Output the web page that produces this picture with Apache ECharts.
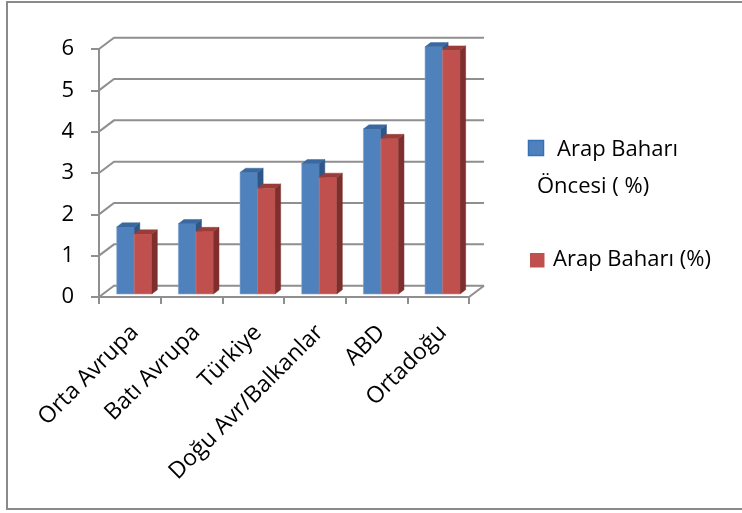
<!DOCTYPE html>
<html>
<head>
<meta charset="utf-8">
<script src="https://cdn.jsdelivr.net/npm/echarts@6/dist/echarts.min.js"></script>
<style>
html,body{margin:0;padding:0;background:#fff;}
#chart{width:742px;height:513px;}
</style>
</head>
<body>
<div id="chart"></div>
<script>
const categories = ['Orta Avrupa', 'Batı Avrupa', 'Türkiye', 'Doğu Avr/Balkanlar', 'ABD', 'Ortadoğu'];
const seriesNames = ['Arap Baharı Öncesi ( %)', 'Arap Baharı (%)'];
const legendLines = [['Arap Baharı', 'Öncesi ( %)'], ['Arap Baharı (%)']];
const valuesBefore = [1.62, 1.70, 2.94, 3.15, 3.99, 5.98];
const valuesAfter = [1.45, 1.51, 2.56, 2.82, 3.76, 5.90];
const yTicks = [0, 1, 2, 3, 4, 5, 6];

const FONT = '"Open Sans"';
const GRID_COLOR = '#8f8f8f';
const DX = 15, DY = -11.3;          // wall depth
const FRONT = 0.27, BACK = 0.64;    // bar depth fractions
const faceColors = [
  {front: '#4f81bd', top: '#3a68a0', side: '#2e5687', edge: '#7fa3d0'},
  {front: '#c0504d', top: '#9b3c39', side: '#7e2f2d', edge: '#d88482'}
];

const chart = echarts.init(document.getElementById('chart'), null, {renderer: 'canvas'});

function wallRender(params, api) {
  const v = api.value(1);
  const p = api.coord([0, v]);
  const bw = api.size([1, 0])[0];
  const xl = p[0] - bw / 2;
  const xr = xl + bw * categories.length;
  const y = p[1];
  const children = [{
    type: 'polyline',
    shape: {points: [[xl, y], [xl + DX, y + DY], [xr + DX, y + DY]]},
    style: {stroke: GRID_COLOR, lineWidth: 2, fill: null}
  }];
  if (v === 0) {
    children.push({
      type: 'line',
      shape: {x1: xr, y1: y, x2: xr + DX, y2: y + DY},
      style: {stroke: GRID_COLOR, lineWidth: 2}
    });
  }
  return {type: 'group', children: children};
}

function makeBarRender(s) {
  return function (params, api) {
    const ci = api.value(0), v = api.value(1);
    const c = api.coord([ci, v]);
    const b = api.coord([ci, 0]);
    const bw = api.size([1, 0])[0];
    const left = c[0] - bw / 2;
    const fdx = DX * FRONT, fdy = DY * FRONT;
    const sdx = DX * (BACK - FRONT), sdy = DY * (BACK - FRONT);
    const x0 = left + bw * (0.222 + s * 0.284) + fdx;
    const x1 = x0 + bw * 0.284;
    const yT = c[1] + fdy, yB = b[1] + fdy;
    const col = faceColors[s];
    return {
      type: 'group',
      children: [
        {type: 'polygon', shape: {points: [[x0, yT], [x1, yT], [x1, yB], [x0, yB]]},
         style: {fill: col.front, stroke: col.edge, lineWidth: 0.6}},
        {type: 'polygon', shape: {points: [[x1, yT], [x1 + sdx, yT + sdy], [x1 + sdx, yB + sdy], [x1, yB]]},
         style: {fill: col.side, stroke: col.side, lineWidth: 0.5}},
        {type: 'polygon', shape: {points: [[x0, yT], [x1, yT], [x1 + sdx, yT + sdy], [x0 + sdx, yT + sdy]]},
         style: {fill: col.top, stroke: col.top, lineWidth: 0.5}}
      ]
    };
  };
}

const option = {
  backgroundColor: '#ffffff',
  animation: false,
  grid: {left: 99, right: 273, top: 49, bottom: 216},
  xAxis: {
    type: 'category',
    data: categories,
    boundaryGap: true,
    axisLine: {show: true, lineStyle: {color: GRID_COLOR, width: 2}},
    axisTick: {show: true, length: 7, lineStyle: {color: GRID_COLOR, width: 2}},
    axisLabel: {rotate: 45, interval: 0, margin: 27, align: 'right', verticalAlign: 'top',
                lineHeight: 14, fontFamily: FONT, fontSize: 23, color: '#000'},
    splitLine: {show: false}
  },
  yAxis: {
    type: 'value',
    min: 0, max: 6, interval: 1,
    axisLine: {show: true, lineStyle: {color: GRID_COLOR, width: 2}},
    axisTick: {show: true, length: 8, lineStyle: {color: GRID_COLOR, width: 2}},
    axisLabel: {margin: 25, fontFamily: FONT, fontSize: 22, color: '#000'},
    splitLine: {show: false}
  },
  graphic: [
    {type: 'rect', shape: {x: 7, y: 2, width: 760, height: 507}, style: {fill: null, stroke: '#8a8a8a', lineWidth: 2}, z: -10},
    {type: 'rect', shape: {x: 528.5, y: 140.5, width: 15, height: 15}, style: {fill: faceColors[0].front, stroke: '#3670b8', lineWidth: 1.5}},
    {type: 'text', x: 557, y: 150, style: {text: legendLines[0][0], font: '22px ' + FONT, fill: '#000', verticalAlign: 'middle'}},
    {type: 'text', x: 537, y: 187, style: {text: legendLines[0][1], font: '22px ' + FONT, fill: '#000', verticalAlign: 'middle'}},
    {type: 'rect', shape: {x: 530, y: 253, width: 14.5, height: 14.5}, style: {fill: faceColors[1].front}},
    {type: 'text', x: 553, y: 260, style: {text: legendLines[1][0], font: '22px ' + FONT, fill: '#000', verticalAlign: 'middle'}}
  ],
  series: [
    {type: 'custom', name: 'walls', renderItem: wallRender, data: yTicks.map(v => [0, v]), z: 1, silent: true, clip: false},
    {type: 'custom', name: seriesNames[0], renderItem: makeBarRender(0), data: valuesBefore.map((v, i) => [i, v]), z: 2, clip: false},
    {type: 'custom', name: seriesNames[1], renderItem: makeBarRender(1), data: valuesAfter.map((v, i) => [i, v]), z: 3, clip: false}
  ]
};
chart.setOption(option);
</script>
</body>
</html>
